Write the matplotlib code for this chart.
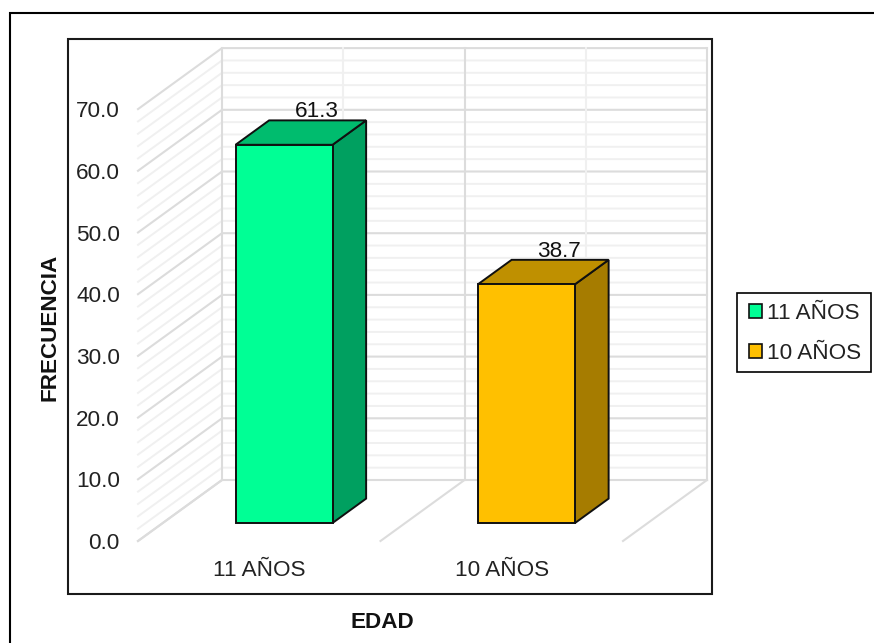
import matplotlib.pyplot as plt
from matplotlib.patches import Polygon, Rectangle

plt.rcParams["font.family"] = ["Liberation Sans", "DejaVu Sans"]

categorias = ["11 AÑOS", "10 AÑOS"]
valores = [61.3, 38.7]
etiquetas = ["61.3", "38.7"]
y_ticks = [0, 10, 20, 30, 40, 50, 60, 70]
y_minor = [2, 4, 6, 8, 12, 14, 16, 18, 22, 24, 26, 28, 32, 34, 36, 38,
           42, 44, 46, 48, 52, 54, 56, 58, 62, 64, 66, 68]
colores_frente = ["#00FF95", "#FFC000"]
colores_arriba = ["#00BC6E", "#BF9000"]
colores_lado = ["#00A060", "#A67C00"]

W, H = 874, 643
FS = 16.2
# Profundidad del efecto 3D (en unidades de datos)
DX = 84 / 242.5
DY = 61 / 6.17
D0, D1 = 0.295, 0.695
ANCHO = 0.4


def proy(x, v, d):
    return x + d * DX, v + d * DY


fig = plt.figure(figsize=(W / 100, H / 100), dpi=100)

# Marcos exteriores
fig.add_artist(Rectangle((9.5 / W, -0.05), 1.05, 1 - 13 / H + 0.05, transform=fig.transFigure,
                         fill=False, ec="black", lw=1.5))
fig.add_artist(Rectangle((68 / W, 1 - 594 / H), (712 - 68) / W, (594 - 39) / H,
                         transform=fig.transFigure, fill=False, ec="#1a1a1a", lw=1.5))

# Ejes: origen en la esquina frontal del piso
ax = fig.add_axes([138 / W, 1 - 541 / H, 485 / W, 431.9 / H])
ax.set_xlim(0, 2)
ax.set_ylim(0, 70)
for s in ax.spines.values():
    s.set_visible(False)
ax.patch.set_alpha(0)

# Rejilla: paredes y piso
for v, c, lw in [(m, "#F0F0F0", 1.4) for m in y_minor] + [(t, "#DCDCDC", 1.5) for t in y_ticks]:
    x0, y0 = proy(0, v, 0)
    x1, y1 = proy(0, v, 1)
    x2, y2 = proy(2, v, 1)
    ax.plot([x0, x1, x2], [y0, y1, y2], color=c, lw=lw, zorder=1, clip_on=False)
for x, c in [(0.5, "#F0F0F0"), (1.5, "#F0F0F0"), (0, "#DCDCDC"), (1, "#DCDCDC"), (2, "#DCDCDC")]:
    x0, y0 = proy(x, 0, 1)
    x1, y1 = proy(x, 70, 1)
    ax.plot([x0, x1], [y0, y1], color=c, lw=1.5, zorder=1.5, clip_on=False)
for x in [0, 1, 2]:
    x0, y0 = proy(x, 0, 0)
    x1, y1 = proy(x, 0, 1)
    ax.plot([x0, x1], [y0, y1], color="#DCDCDC", lw=1.5, zorder=1.5, clip_on=False)

# Barras
for i, v in enumerate(valores):
    a = i + 0.5 - ANCHO / 2
    b = i + 0.5 + ANCHO / 2
    frente = [proy(a, 0, D0), proy(b, 0, D0), proy(b, v, D0), proy(a, v, D0)]
    arriba = [proy(a, v, D0), proy(b, v, D0), proy(b, v, D1), proy(a, v, D1)]
    lado = [proy(b, 0, D0), proy(b, 0, D1), proy(b, v, D1), proy(b, v, D0)]
    for pts, c in [(lado, colores_lado[i]), (arriba, colores_arriba[i]), (frente, colores_frente[i])]:
        ax.add_patch(Polygon(pts, closed=True, fc=c, ec="#101010", lw=1.4, zorder=3,
                             joinstyle="miter", clip_on=False))
    ax.annotate(etiquetas[i], proy(i + 0.5, v, D1), xytext=(-0.5, -1.5), textcoords="offset points",
                ha="center", va="bottom", fontsize=FS, color="#111111", zorder=4)

# Ticks y etiquetas
ax.set_yticks(y_ticks)
ax.set_yticklabels([f"{t:.1f}" for t in y_ticks], fontsize=FS, color="#222222")
ax.set_xticks([0.5, 1.5])
ax.set_xticklabels(categorias, fontsize=FS, color="#222222")
ax.tick_params(axis="y", length=0, pad=13)
ax.tick_params(axis="x", length=0, pad=14)

fig.text(50 / W, 1 - 327 / H, "FRECUENCIA", rotation=90, ha="center", va="center",
         fontsize=FS, fontweight="bold", color="#111111")
fig.text(382 / W, 1 - 622 / H, "EDAD", ha="center", va="center",
         fontsize=FS, fontweight="bold", color="#111111")

# Leyenda
fig.add_artist(Rectangle((737 / W, 1 - 372 / H), 134 / W, 79 / H, transform=fig.transFigure,
                         fc="white", ec="black", lw=1.2))
handles = [Rectangle((0, 0), 1, 1, fc=c, ec="#101010", lw=1.2) for c in colores_frente]
leg = fig.legend(handles, categorias, loc="center left", bbox_to_anchor=(737 / W, 1 - 333.5 / H),
                 fontsize=FS, frameon=False,
                 handlelength=0.55, handleheight=0.55, handletextpad=0.25, labelspacing=0.85,
                 borderpad=0.55, borderaxespad=0, labelcolor="#222222")

plt.savefig("out.png", dpi=100)
plt.close()
